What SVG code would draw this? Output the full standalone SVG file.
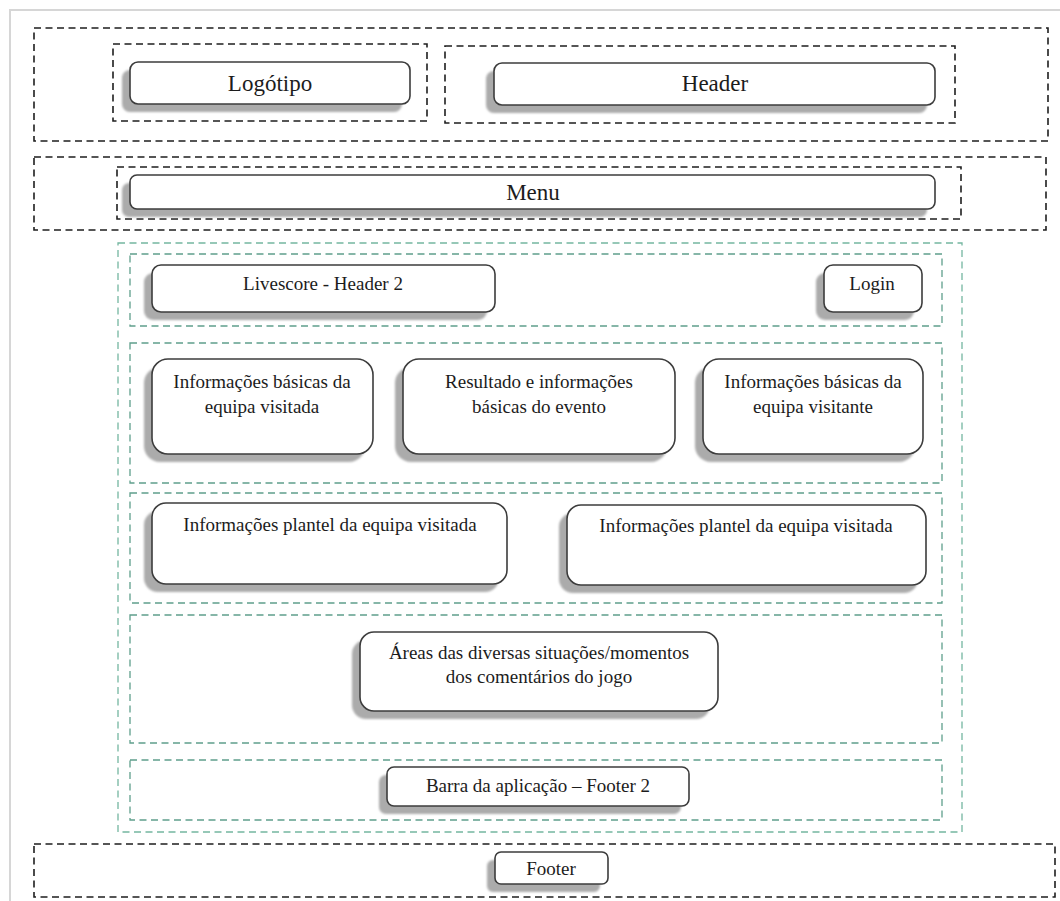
<svg xmlns="http://www.w3.org/2000/svg" width="1060" height="901" viewBox="0 0 1060 901">
  <style>
    .frame { stroke: #d6d6d6; stroke-width: 2; fill: none; }
    .zone { fill: none; stroke: #1e1e1e; stroke-width: 1.6; stroke-dasharray: 7 4.5; }
    .area { fill: none; stroke: #5f9f8c; stroke-width: 1.3; stroke-dasharray: 7 4.5; }
    .area-outer { fill: none; stroke: #74b6a0; stroke-width: 1.3; stroke-dasharray: 7 4.5; }
    .shadow { fill: #ababab; filter: url(#soft); }
    .box { fill: #ffffff; stroke: #3c3c3c; stroke-width: 1.6; }
    .label { font-size: 19px; fill: #1c1c1c; text-anchor: middle; }
    .label.big { font-size: 23px; }
  </style>
  <defs>
    <filter id="soft" x="-10%" y="-30%" width="120%" height="160%">
      <feGaussianBlur stdDeviation="0.8"/>
    </filter>
  </defs>

  <rect width="1060" height="901" fill="#ffffff"/>
  <!-- page frame -->
  <path class="frame" d="M10 901 V10 H1060"/>

  <!-- layout zones -->
  <g id="zones">
    <rect class="zone" x="34" y="28" width="1014" height="113"/>
    <rect class="zone" x="113" y="44" width="314" height="77"/>
    <rect class="zone" x="445" y="46" width="510" height="77"/>
    <rect class="zone" x="34" y="157" width="1012" height="73"/>
    <rect class="zone" x="117" y="167" width="844" height="52"/>
    <rect class="zone" x="34" y="844" width="1021" height="53"/>
  </g>

  <!-- content areas -->
  <g id="content-areas">
    <rect class="area-outer" x="118" y="243" width="844" height="589"/>
    <rect class="area" x="130" y="254" width="812" height="72"/>
    <rect class="area" x="130" y="343" width="812" height="140"/>
    <rect class="area" x="130" y="493" width="812" height="110"/>
    <rect class="area" x="130" y="615" width="812" height="128"/>
    <rect class="area" x="130" y="760" width="812" height="60"/>
  </g>

  <g id="connectors"/>

  <g id="nodes" font-family="'Liberation Serif', 'Times New Roman', serif">
    <g id="logotipo">
      <rect class="shadow" x="122" y="70" width="280" height="42" rx="8"/>
      <rect class="box" x="130" y="62" width="280" height="42" rx="8"/>
      <text class="label big" x="270" y="91">Logótipo</text>
    </g>

    <g id="header">
      <rect class="shadow" x="486" y="71" width="441" height="42" rx="8"/>
      <rect class="box" x="494" y="63" width="441" height="42" rx="8"/>
      <text class="label big" x="715" y="91">Header</text>
    </g>

    <g id="menu">
      <rect class="shadow" x="122" y="183" width="805" height="34" rx="7"/>
      <rect class="box" x="130" y="175" width="805" height="34" rx="7"/>
      <text class="label big" x="533" y="200">Menu</text>
    </g>

    <g id="livescore-header">
      <rect class="shadow" x="144" y="273" width="343" height="47" rx="9"/>
      <rect class="box" x="152" y="265" width="343" height="47" rx="9"/>
      <text class="label" x="323" y="290">Livescore - Header 2</text>
    </g>

    <g id="login">
      <rect class="shadow" x="816" y="273" width="98" height="47" rx="9"/>
      <rect class="box" x="824" y="265" width="98" height="47" rx="9"/>
      <text class="label" x="872" y="290">Login</text>
    </g>

    <g id="equipa-visitada">
      <rect class="shadow" x="144" y="367" width="221" height="95" rx="16"/>
      <rect class="box" x="152" y="359" width="221" height="95" rx="16"/>
      <text class="label" x="262" y="388">Informações básicas da</text>
      <text class="label" x="262" y="413">equipa visitada</text>
    </g>

    <g id="resultado-evento">
      <rect class="shadow" x="395" y="367" width="272" height="95" rx="16"/>
      <rect class="box" x="403" y="359" width="272" height="95" rx="16"/>
      <text class="label" x="539" y="388">Resultado e informações</text>
      <text class="label" x="539" y="413">básicas do evento</text>
    </g>

    <g id="equipa-visitante">
      <rect class="shadow" x="695" y="367" width="220" height="95" rx="16"/>
      <rect class="box" x="703" y="359" width="220" height="95" rx="16"/>
      <text class="label" x="813" y="388">Informações básicas da</text>
      <text class="label" x="813" y="413">equipa visitante</text>
    </g>

    <g id="plantel-visitada-1">
      <rect class="shadow" x="144" y="511" width="355" height="81" rx="14"/>
      <rect class="box" x="152" y="503" width="355" height="81" rx="14"/>
      <text class="label" x="330" y="531">Informações plantel da equipa visitada</text>
    </g>

    <g id="plantel-visitada-2">
      <rect class="shadow" x="559" y="513" width="359" height="80" rx="14"/>
      <rect class="box" x="567" y="505" width="359" height="80" rx="14"/>
      <text class="label" x="746" y="532">Informações plantel da equipa visitada</text>
    </g>

    <g id="comentarios">
      <rect class="shadow" x="352" y="640" width="358" height="79" rx="14"/>
      <rect class="box" x="360" y="632" width="358" height="79" rx="14"/>
      <text class="label" x="539" y="659">Áreas das diversas situações/momentos</text>
      <text class="label" x="539" y="683">dos comentários do jogo</text>
    </g>

    <g id="footer-2">
      <rect class="shadow" x="379" y="775" width="302" height="39" rx="7"/>
      <rect class="box" x="387" y="767" width="302" height="39" rx="7"/>
      <text class="label" x="538" y="792">Barra da aplicação – Footer 2</text>
    </g>

    <g id="footer">
      <rect class="shadow" x="487" y="860" width="113" height="32" rx="6"/>
      <rect class="box" x="495" y="852" width="113" height="32" rx="6"/>
      <text class="label" x="551" y="875">Footer</text>
    </g>
  </g>
</svg>
